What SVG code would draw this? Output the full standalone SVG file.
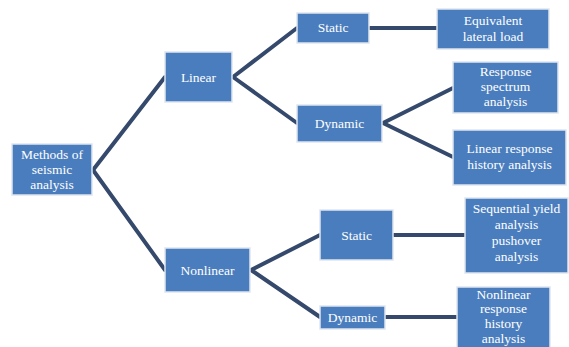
<svg xmlns="http://www.w3.org/2000/svg" width="569" height="347" viewBox="0 0 569 347">
<style>
.box{fill:#4a7dbd;stroke:#dfe6ef;stroke-width:1.5}
.t{font-family:"Liberation Serif",serif;font-size:13.5px;fill:#ffffff;text-anchor:middle}
.c{stroke:#34496b;stroke-width:4;fill:none;stroke-linecap:round}
</style>
<rect width="569" height="347" fill="#ffffff"/>
<g id="connectors">
<path class="c" d="M93,170 L165,77"/>
<path class="c" d="M93,170 L165,270"/>
<path class="c" d="M233,77 L297,28"/>
<path class="c" d="M233,77 L297,123"/>
<path class="c" d="M370,28 L437,28"/>
<path class="c" d="M383,123 L453,88"/>
<path class="c" d="M383,123 L453,157"/>
<path class="c" d="M251,270 L320,235"/>
<path class="c" d="M251,270 L320,317"/>
<path class="c" d="M394,235 L465,235"/>
<path class="c" d="M386,317 L457,317"/>
</g>
<g id="root"><rect class="box" x="12" y="144" width="80" height="51"/>
<text class="t" x="52" y="159">Methods of</text><text class="t" x="52" y="174">seismic</text><text class="t" x="52" y="189">analysis</text></g>
<g id="linear"><rect class="box" x="165" y="52" width="67" height="50"/>
<text class="t" x="198.5" y="82">Linear</text></g>
<g id="static1"><rect class="box" x="297" y="13" width="72" height="30"/>
<text class="t" x="333" y="32">Static</text></g>
<g id="equivalent"><rect class="box" x="437" y="9" width="112" height="40"/>
<text class="t" x="493" y="25">Equivalent</text><text class="t" x="493" y="41">lateral load</text></g>
<g id="dynamic1"><rect class="box" x="297" y="105" width="85" height="37"/>
<text class="t" x="339.5" y="128">Dynamic</text></g>
<g id="response"><rect class="box" x="453" y="62" width="105" height="51"/>
<text class="t" x="505.5" y="76">Response</text><text class="t" x="505.5" y="91">spectrum</text><text class="t" x="505.5" y="106">analysis</text></g>
<g id="linearhistory"><rect class="box" x="453" y="130" width="113" height="55"/>
<text class="t" x="509.5" y="153">Linear response</text><text class="t" x="509.5" y="169">history  analysis</text></g>
<g id="nonlinear"><rect class="box" x="165" y="248" width="85" height="44"/>
<text class="t" x="207.5" y="275">Nonlinear</text></g>
<g id="static2"><rect class="box" x="320" y="210" width="73" height="50"/>
<text class="t" x="356.5" y="240">Static</text></g>
<g id="sequential"><rect class="box" x="465" y="198" width="103" height="75"/>
<text class="t" x="516.5" y="213">Sequential yield</text><text class="t" x="516.5" y="229">analysis</text><text class="t" x="516.5" y="245">pushover</text><text class="t" x="516.5" y="261">analysis</text></g>
<g id="dynamic2"><rect class="box" x="320" y="306" width="65" height="23"/>
<text class="t" x="352.5" y="322">Dynamic</text></g>
<g id="nonlinearhistory"><rect class="box" x="457" y="287" width="93" height="64"/>
<text class="t" x="503.5" y="299">Nonlinear</text><text class="t" x="503.5" y="313">response</text><text class="t" x="503.5" y="328">history</text><text class="t" x="503.5" y="343">analysis</text></g>
</svg>
